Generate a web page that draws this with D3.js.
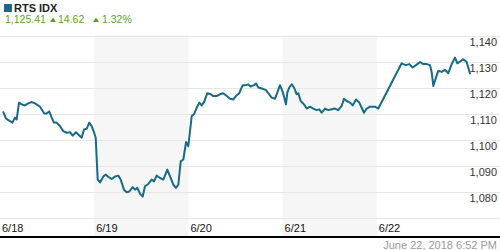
<!DOCTYPE html>
<html><head><meta charset="utf-8">
<script src="https://cdn.jsdelivr.net/npm/d3@7"></script>
<style>body{margin:0;background:#fff}svg{display:block;font-family:"Liberation Sans",Arial,sans-serif}</style>
</head><body>
<svg id="c" width="500" height="250"></svg>
<script>
const title = "RTS IDX";
const lastValue = "1,125.41";
const change = "14.62";
const changePct = "1.32%";
const stamp = "June 22, 2018 6:52 PM";
const days = ["6/18","6/19","6/20","6/21","6/22"];
const shadedDays = [1,3];
const yTicks = [1080,1090,1100,1110,1120,1130,1140];
const gridVals = [1070,1080,1090,1100,1110,1120,1130,1140];
// time in days since start of 6/18 session
const times = [0.035,0.064,0.106,0.131,0.159,0.177,0.202,0.230,0.265,0.300,0.337,0.372,0.425,0.470,0.496,0.523,0.549,0.573,0.602,0.637,0.672,0.708,0.743,0.772,0.807,0.842,0.867,0.892,0.920,0.948,0.973,0.998,
1.016,1.027,1.037,1.062,1.097,1.125,1.150,1.186,1.221,1.256,1.281,1.316,1.345,1.373,1.409,1.433,1.458,1.486,1.515,1.539,1.574,1.610,1.635,1.663,1.699,1.734,1.776,1.805,1.840,1.868,1.893,1.918,1.946,1.975,1.999,
2.035,2.059,2.088,2.116,2.141,2.166,2.201,2.237,2.264,2.300,2.335,2.370,2.407,2.442,2.477,2.505,2.540,2.576,2.611,2.636,2.661,2.696,2.718,2.742,2.778,2.824,2.848,2.884,2.919,2.944,2.972,2.997,
3.015,3.036,3.050,3.071,3.097,3.121,3.150,3.167,3.192,3.227,3.256,3.291,3.326,3.362,3.390,3.415,3.450,3.485,3.521,3.556,3.591,3.627,3.652,3.680,3.716,3.744,3.779,3.814,3.840,3.864,3.893,3.928,3.981,4.016,
4.264,4.281,4.310,4.345,4.381,4.416,4.459,4.494,4.530,4.565,4.583,4.600,4.628,4.653,4.689,4.724,4.759,4.795,4.830,4.855,4.891,4.918,4.954,4.989];
const values = [1110.5,1108.0,1107.1,1106.5,1108.4,1107.7,1114.2,1113.5,1113.1,1113.9,1114.4,1113.9,1112.6,1110.0,1110.0,1110.8,1108.4,1106.5,1106.5,1105.1,1103.2,1102.6,1102.8,1101.5,1102.8,1101.5,1100.7,1103.9,1104.1,1106.5,1105.1,1102.8,
1100.7,1092.3,1084.6,1083.5,1085.8,1086.5,1085.6,1084.8,1085.8,1086.1,1084.6,1080.7,1079.7,1080.0,1081.7,1080.7,1081.4,1079.2,1078.1,1082.0,1082.9,1084.6,1083.9,1086.1,1085.2,1084.6,1088.4,1085.8,1082.6,1081.4,1082.6,1091.6,1092.3,1099.0,1097.4,
1109.0,1109.7,1112.2,1114.2,1113.1,1114.4,1117.8,1117.4,1116.7,1116.7,1117.4,1117.8,1116.7,1115.7,1115.4,1116.7,1117.8,1120.9,1120.9,1121.2,1120.4,1120.9,1121.5,1120.0,1119.6,1119.0,1117.8,1116.1,1115.7,1118.0,1120.9,1118.7,
1116.5,1113.5,1118.0,1120.0,1121.2,1120.0,1117.4,1117.8,1114.8,1113.5,1111.9,1112.6,1111.9,1111.3,1111.6,1110.3,1111.9,1111.3,1111.6,1111.9,1111.3,1112.9,1115.7,1114.8,1114.2,1113.1,1115.4,1114.2,1112.2,1110.3,1111.9,1112.6,1112.6,1111.9,
1129.3,1129.0,1128.6,1129.0,1127.7,1128.6,1129.8,1129.0,1129.0,1128.6,1125.8,1120.6,1123.8,1126.4,1126.0,1126.8,1125.5,1129.0,1131.5,1129.3,1130.2,1130.9,1129.8,1125.4];

const lineColor = "#186a87", green = "#5a9f2a";
const svg = d3.select("#c");
const x = d3.scaleLinear().domain([0, days.length]).range([0, 471]);
const y = d3.scaleLinear().domain([1070, 1140]).range([217.5, 35.5]);
const axisY = 237;

// header
svg.append("rect").attr("x",4).attr("y",4).attr("width",8).attr("height",8).attr("fill",lineColor);
svg.append("text").attr("x",14).attr("y",12).attr("font-size",11).attr("font-weight","bold").attr("fill","#222").text(title);
const hdr = svg.append("g").attr("fill",green).attr("font-size",10.5);
hdr.append("text").attr("x",5).attr("y",23).text(lastValue);
hdr.append("path").attr("d","M50,22L56,22L53,17.5Z");
hdr.append("text").attr("x",58).attr("y",23).text(change);
hdr.append("path").attr("d","M93,22L99,22L96,17.5Z");
hdr.append("text").attr("x",102).attr("y",23).text(changePct);

// shaded bands
svg.append("g").selectAll("rect").data(shadedDays).join("rect")
  .attr("x", d => x(d)).attr("width", d => x(d+1) - x(d))
  .attr("y", y(1140)).attr("height", axisY - y(1140))
  .attr("fill", "#f6f6f6");

// gridlines
svg.append("g").selectAll("line").data(gridVals).join("line")
  .attr("x1",0).attr("x2",500)
  .attr("y1", d => Math.round(y(d)) + 0.5).attr("y2", d => Math.round(y(d)) + 0.5)
  .attr("stroke","#e6e6e6").attr("stroke-width",1);

// y labels
svg.append("g").selectAll("text").data(yTicks).join("text")
  .attr("x",497).attr("y", d => y(d) + 10).attr("text-anchor","end")
  .attr("font-size",11).attr("fill","#333")
  .text(d => d3.format(",")(d));

// x labels
svg.append("g").selectAll("text").data(days).join("text")
  .attr("x",(d,i) => x(i) + 2).attr("y",232)
  .attr("font-size",11).attr("fill","#111").text(d => d);

// axis line
svg.append("line").attr("x1",0).attr("x2",500).attr("y1",axisY).attr("y2",axisY)
  .attr("stroke","#000").attr("stroke-width",2);

// footer
svg.append("text").attr("x",497).attr("y",249).attr("text-anchor","end")
  .attr("font-size",11).attr("fill","#999").text(stamp);

// line
const pts = times.map((t,i) => [t, values[i]]);
svg.append("path").datum(pts)
  .attr("d", d3.line().x(d => x(d[0])).y(d => y(d[1])))
  .attr("fill","none").attr("stroke",lineColor).attr("stroke-width",2)
  .attr("stroke-linejoin","round").attr("stroke-linecap","round");
</script>
</body></html>
